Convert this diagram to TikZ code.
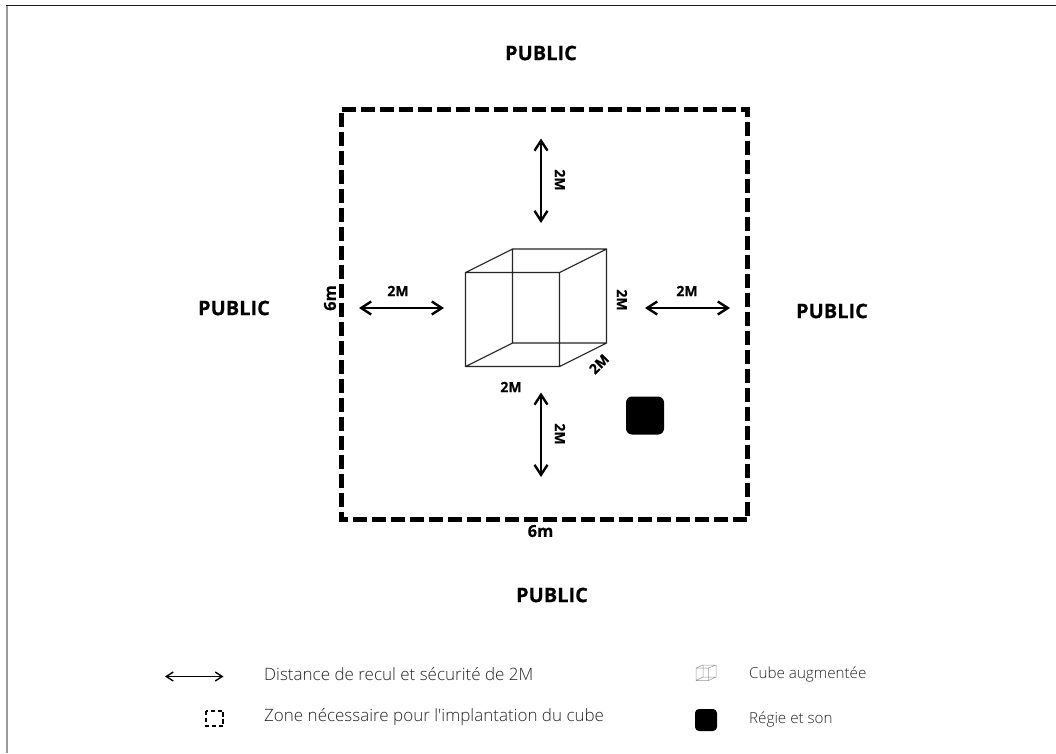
\documentclass[tikz,border=0pt]{standalone}
\usepackage{fontspec}
\setmainfont{Open Sans}
\newfontfamily\xbold[FakeBold=0.4]{Open Sans Bold}
\newfontfamily\xlight{Open Sans Light}
\usetikzlibrary{arrows.meta}
\begin{document}
\begin{tikzpicture}[x=1pt,y=-1pt,
  lbl/.style={font=\fontsize{14}{15}\selectfont\xbold,inner sep=0pt},
  meter/.style={font=\fontsize{16.5}{18}\selectfont\xbold,inner sep=0pt},
  big/.style={font=\fontsize{20}{22}\selectfont\xbold,inner sep=0pt},
  leg/.style={font=\fontsize{17}{20}\selectfont\xlight,text=black!85,inner sep=0pt,anchor=west},
  legs/.style={font=\fontsize{15.2}{18}\selectfont\xlight,text=black!85,inner sep=0pt,anchor=west},
  dbl/.style={line width=2.4pt,{Straight Barb[length=10pt,width=13pt,line width=2.4pt]}-{Straight Barb[length=10pt,width=13pt,line width=2.4pt]}},
  sdbl/.style={line width=1.4pt,{Straight Barb[length=7pt,width=9pt,line width=1.4pt]}-{Straight Barb[length=7pt,width=9pt,line width=1.4pt]}},
  edge/.style={line width=1.1pt,black!85},
  blob/.style={fill=black,rounded corners=6pt}]
\useasboundingbox (0,0) rectangle (1056,753);
\fill[white] (0,0) rectangle (1056,753);
\draw[black!40,line width=1.6pt] (6.8,5.5) -- (6.8,753);
\draw[black!90,line width=1pt] (6,5.5) -- (1056,5.5);
\node[big] at (541,53) {PUBLIC};
\node[big] at (234,308) {PUBLIC};
\node[big] at (832,311) {PUBLIC};
\node[big] at (552,595) {PUBLIC};
\coordinate (zA) at (341.5,109.5);
\coordinate (zB) at (747.5,109.5);
\coordinate (zC) at (747.5,519.5);
\coordinate (zD) at (341.5,519.5);
\draw[line width=4.2pt,dash pattern=on 14pt off 5pt] (zA) -- (zB) -- (zC) -- (zD) -- cycle;
\coordinate (f1) at (465.5,272.5);\coordinate (f2) at (559.5,272.5);
\coordinate (f3) at (559.5,366.5);\coordinate (f4) at (465.5,366.5);
\coordinate (b1) at (512.5,249);\coordinate (b2) at (606.5,249);
\coordinate (b3) at (606.5,343);\coordinate (b4) at (512.5,343);
\draw[edge] (f1)--(f2)--(f3)--(f4)--cycle (b1)--(b2)--(b3)--(b4)--cycle (f1)--(b1) (f2)--(b2) (f3)--(b3) (f4)--(b4);
\coordinate (a1) at (541,138.5);\coordinate (a2) at (541,223);
\coordinate (a3) at (541,392.5);\coordinate (a4) at (541,477);
\coordinate (a5) at (359,308);\coordinate (a6) at (444,308);
\coordinate (a7) at (645,308);\coordinate (a8) at (730,308);
\draw[dbl] (a1)--(a2);\draw[dbl] (a3)--(a4);\draw[dbl] (a5)--(a6);\draw[dbl] (a7)--(a8);
\node[lbl,rotate=-90] at (560,180) {2M};
\node[lbl,rotate=-90] at (560,434) {2M};
\node[lbl] at (398,291) {2M};
\node[lbl] at (687,291) {2M};
\node[lbl,rotate=-90] at (622,300) {2M};
\node[lbl] at (511,387) {2M};
\node[lbl,rotate=45] at (599,364) {2M};
\node[blob,minimum size=38pt] (regie) at (645,415.5) {};
\node[meter,rotate=90] at (330,298) {6m};
\node[meter] at (540.5,531) {6m};
% legend
\coordinate (l1) at (165,676.5);\coordinate (l2) at (223.5,676.5);
\draw[sdbl] (l1)--(l2);
\node[leg] at (264,674) {Distance de recul et sécurité de 2M};
\draw[line width=2pt,dash pattern=on 4.5pt off 2.5pt] (206,710.5) rectangle (223,726);
\node[leg] at (264,717) {Zone nécessaire pour l'implantation du cube};
\begin{scope}[black!40,line width=0.5pt]
\draw (696,668) rectangle (708.5,680.5) (703,665) rectangle (716,677) (696,668)--(703,665) (708.5,668)--(716,665) (708.5,680.5)--(716,677) (696,680.5)--(703,677);
\end{scope}
\node[legs] at (749,674) {Cube augmentée};
\node[fill=black,rounded corners=4pt,minimum size=22pt,inner sep=0pt] (lreg) at (706,720) {};
\node[legs] at (749,719) {Régie et son};
\end{tikzpicture}
\end{document}
